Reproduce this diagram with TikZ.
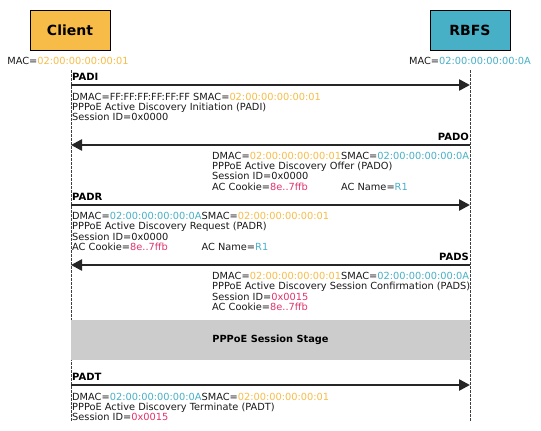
\documentclass[tikz,border=0pt]{standalone}
\usepackage{fontspec}
\setmainfont{DejaVu Sans}
\usetikzlibrary{arrows.meta}
\definecolor{corange}{HTML}{F7BC48}
\definecolor{cteal}{HTML}{47B0C7}
\definecolor{cpink}{HTML}{E0336B}
\definecolor{cstage}{HTML}{CCCCCC}
\newcommand{\omac}[1]{\textcolor{corange}{#1}}
\newcommand{\tmac}[1]{\textcolor{cteal}{#1}}
\newcommand{\pval}[1]{\textcolor{cpink}{#1}}
\newcommand{\wideline}[1]{\multicolumn{2}{@{}l@{}}{#1}}
\begin{document}
\begin{tikzpicture}[x=1pt,y=-1pt,
  actor/.style={draw=black, line width=0.7pt, minimum width=80pt, minimum height=40pt, inner sep=0pt, font=\fontsize{14}{16}\selectfont\bfseries},
  lifeline/.style={draw=black!75, line width=0.6pt, dash pattern=on 2.5pt off 1.5pt},
  msgarrow/.style={draw=black!85, line width=2.5pt, -{Triangle[length=11pt,width=11pt]}},
  msglabel/.style={inner sep=0pt, font=\fontsize{10}{12}\selectfont\bfseries},
  msgtext/.style={inner sep=0pt, anchor=base west, text=black!90, font=\fontsize{9.8}{9.7}\selectfont},
  maclabel/.style={inner sep=0pt, text=black!90, font=\fontsize{9.8}{12}\selectfont},
  stage/.style={fill=cstage, minimum width=399pt, minimum height=40pt, inner sep=0pt, font=\fontsize{9.8}{12}\selectfont\bfseries}]
\useasboundingbox (0,0) rectangle (541,431);

% actors
\node[actor, fill=corange] (client) at (70,30) {Client};
\node[actor, fill=cteal] (rbfs) at (470,30) {RBFS};
\node[maclabel] (cmac) at (68,61) {MAC=\omac{02:00:00:00:00:01}};
\node[maclabel] (rmac) at (470,61) {MAC=\tmac{02:00:00:00:00:0A}};

% lifelines
\coordinate (ctop) at (71,70);
\coordinate (cbot) at (71,421);
\coordinate (rtop) at (470,70);
\coordinate (rbot) at (470,421);
\draw[lifeline] (ctop) -- (cbot);
\draw[lifeline] (rtop) -- (rbot);

% PADI
\coordinate (padiS) at (71,85);
\coordinate (padiE) at (470,85);
\draw[msgarrow] (padiS) -- (padiE);
\node[msglabel, anchor=base west] (padi) at (72,80) {PADI};
\node[msgtext] (paditxt) at (72,100) {\begin{tabular}[t]{@{}l@{}}
DMAC=FF:FF:FF:FF:FF:FF\ SMAC=\omac{02:00:00:00:00:01}\\
PPPoE Active Discovery Initiation (PADI)\\
Session ID=0x0000
\end{tabular}};

% PADO
\coordinate (padoS) at (470,145);
\coordinate (padoE) at (71,145);
\draw[msgarrow] (padoS) -- (padoE);
\node[msglabel, anchor=base east] (pado) at (469,140) {PADO};
\node[msgtext] (padotxt) at (212,159) {\begin{tabular}[t]{@{}l@{}l@{}}
DMAC=\omac{02:00:00:00:00:01} & SMAC=\tmac{02:00:00:00:00:0A}\\
\wideline{PPPoE Active Discovery Offer (PADO)}\\
\wideline{Session ID=0x0000}\\
AC Cookie=\pval{8e..7ffb} & AC Name=\tmac{R1}
\end{tabular}};

% PADR
\coordinate (padrS) at (71,205);
\coordinate (padrE) at (470,205);
\draw[msgarrow] (padrS) -- (padrE);
\node[msglabel, anchor=base west] (padr) at (72,200) {PADR};
\node[msgtext] (padrtxt) at (72,219.5) {\begin{tabular}[t]{@{}l@{}l@{}}
DMAC=\tmac{02:00:00:00:00:0A} & SMAC=\omac{02:00:00:00:00:01}\\
\wideline{PPPoE Active Discovery Request (PADR)}\\
\wideline{Session ID=0x0000}\\
AC Cookie=\pval{8e..7ffb} & AC Name=\tmac{R1}
\end{tabular}};

% PADS
\coordinate (padsS) at (470,265);
\coordinate (padsE) at (71,265);
\draw[msgarrow] (padsS) -- (padsE);
\node[msglabel, anchor=base east] (pads) at (469,260) {PADS};
\node[msgtext] (padstxt) at (212,279.5) {\begin{tabular}[t]{@{}l@{}}
DMAC=\omac{02:00:00:00:00:01}SMAC=\tmac{02:00:00:00:00:0A}\\
PPPoE Active Discovery Session Confirmation (PADS)\\
Session ID=\pval{0x0015}\\
AC Cookie=\pval{8e..7ffb}
\end{tabular}};

% session stage
\node[stage] (stage) at (270.5,340) {PPPoE Session Stage};

% PADT
\coordinate (padtS) at (71,385);
\coordinate (padtE) at (470,385);
\draw[msgarrow] (padtS) -- (padtE);
\node[msglabel, anchor=base west] (padt) at (72,380) {PADT};
\node[msgtext] (padttxt) at (72,400) {\begin{tabular}[t]{@{}l@{}}
DMAC=\tmac{02:00:00:00:00:0A}SMAC=\omac{02:00:00:00:00:01}\\
PPPoE Active Discovery Terminate (PADT)\\
Session ID=\pval{0x0015}
\end{tabular}};
\end{tikzpicture}
\end{document}
